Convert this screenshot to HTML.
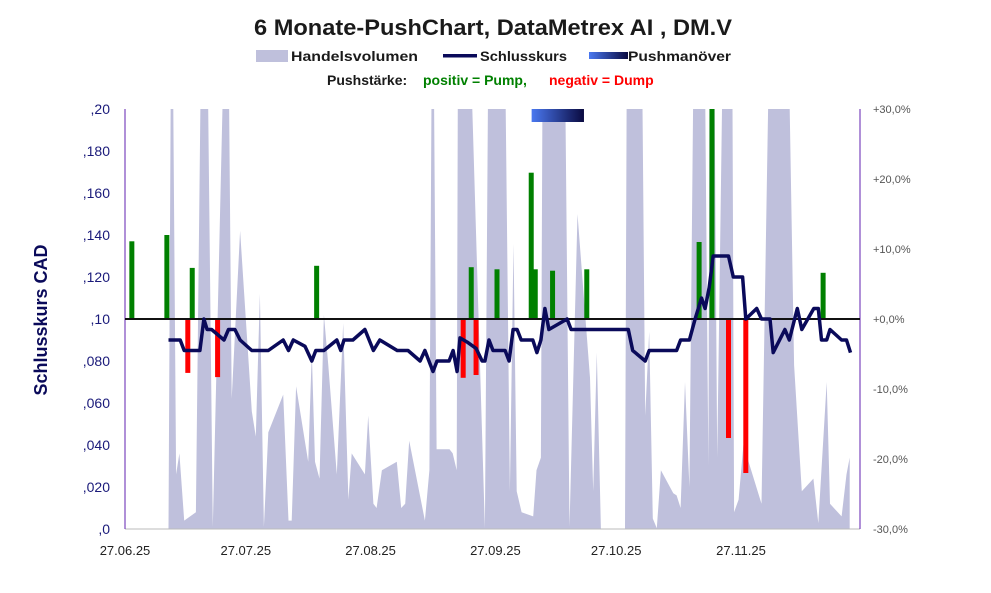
<!DOCTYPE html>
<html><head><meta charset="utf-8"><style>
html,body{margin:0;padding:0;background:#fff;}
svg{display:block;font-family:"Liberation Sans",sans-serif;}
</style></head><body>
<svg id="chart" width="991" height="593" viewBox="0 0 991 593" xmlns="http://www.w3.org/2000/svg">
<defs>
<linearGradient id="pg" x1="0" x2="1" y1="0" y2="0"><stop offset="0" stop-color="#4a78f0"/><stop offset="1" stop-color="#0a0a40"/></linearGradient>
<clipPath id="plotclip"><rect x="125" y="109" width="735" height="420"/></clipPath>
</defs>
<text x="493" y="35" text-anchor="middle" font-size="22" font-weight="bold" fill="#1a1a1a" textLength="478" lengthAdjust="spacingAndGlyphs">6 Monate-PushChart, DataMetrex AI , DM.V</text>
<g>
<rect x="256" y="50" width="32" height="12" fill="#bfc0dc"/>
<text x="291" y="61" font-size="14" font-weight="bold" fill="#1a1a1a" textLength="127" lengthAdjust="spacingAndGlyphs">Handelsvolumen</text>
<rect x="443" y="54" width="34" height="3.5" fill="#0a0a5a"/>
<text x="480" y="61" font-size="14" font-weight="bold" fill="#1a1a1a" textLength="87" lengthAdjust="spacingAndGlyphs">Schlusskurs</text>
<rect x="589" y="52" width="39" height="7" fill="url(#pg)"/>
<text x="628" y="61" font-size="14" font-weight="bold" fill="#1a1a1a" textLength="103" lengthAdjust="spacingAndGlyphs">Pushmanöver</text>
<text y="85" font-size="14" font-weight="bold"><tspan x="327" fill="#1a1a1a">Pushstärke:</tspan><tspan x="423" fill="#008000">positiv = Pump,</tspan><tspan x="549" fill="#ff0000">negativ = Dump</tspan></text>
</g>
<g id="vol" clip-path="url(#plotclip)"></g>
<g id="push"></g>
<g id="axes"></g>
<g id="price"></g>
<text transform="translate(47,320) rotate(-90)" text-anchor="middle" font-size="18" font-weight="bold" fill="#0a0a5a">Schlusskurs CAD</text>
</svg>
<script>
const volDays=[10.8,11.6,12.7,13.5,14.7,17.6,19.3,20.1,21.8,25.4,26.5,28.6,31.5,32.5,33.5,34.5,35.6,39.3,40.6,41.4,42.5,45.5,46.4,47.2,48.3,49.4,50.5,52.6,54.2,55.5,56.3,59.6,60.4,61.7,62.5,63.8,67.5,68.6,69.6,70.6,74.5,75.6,76.4,77.4,80.6,81.4,82.4,82.8,84.7,89.4,90.5,94,95.6,96.5,97.3,98.5,101.4,102.2,103.3,103.9,108.9,110.4,112.4,115.5,116.3,117.2,118.2,124.2,124.8,128.1,129.2,130.2,131.1,132.1,133.1,136.2,137,138,139.1,140.2,141.6,143.7,144.9,145.3,146.1,147.1,149,150.7,151.3,152.4,153.6,158.1,160.6,164.2,166.2,168.1,171,172.2,174.3,175.1,178,179.2,180];
const volValues=[0,150,13,18,2,4,150,150,0.5,150,31,71,28,22,56,0.5,23,32,2,2,34,16,42,16,12,51,39,13,49,7,18,13,27,6,5,14,16,5,6,21,2,14,150,19,19,18,14,150,150,0.2,150,150,9,68,9,4,3,14,17,150,150,0.5,75,36,9,42,0,0,150,150,27,47,2.5,0.2,14,8.5,8,5,35,10,150,150,15,150,150,17,150,150,4,7,20,6,150,150,39,9,12,1.4,35,6,3,13,17];
const priceDays=[10.8,13.7,14.7,18.6,19.6,20.4,21.5,24.6,25.7,27.3,28.6,31.5,35.6,39.3,40.6,41.8,44.7,46.4,47.4,49.4,52.6,53.6,54.4,56.6,59.6,61.7,63.3,67.6,70.3,73.3,74.5,76.5,77.5,80.5,81.5,82.5,83.2,85,87.2,88.7,89.4,90.4,91.4,94.4,95.4,96.4,97.4,98.4,101.3,102.3,103.3,104.3,105.3,109.8,110.8,125,126.1,129.2,130.2,137,138,140.2,141.6,143.2,144.1,145.1,146.1,149.9,151.1,153.4,154.2,156.9,158.1,160.2,161,163.9,165,167,168.1,171.1,172.2,173,174.3,175.1,178,179.2,180.2];
const priceValues=[0.090,0.090,0.085,0.085,0.100,0.095,0.095,0.090,0.095,0.095,0.090,0.085,0.085,0.090,0.085,0.090,0.087,0.080,0.085,0.085,0.090,0.085,0.090,0.090,0.095,0.085,0.090,0.085,0.085,0.080,0.085,0.075,0.080,0.080,0.085,0.075,0.091,0.089,0.086,0.080,0.080,0.090,0.085,0.085,0.080,0.095,0.095,0.090,0.090,0.084,0.090,0.105,0.095,0.100,0.095,0.095,0.085,0.080,0.085,0.085,0.090,0.090,0.100,0.110,0.105,0.115,0.130,0.130,0.120,0.120,0.100,0.105,0.100,0.100,0.084,0.095,0.090,0.105,0.095,0.105,0.105,0.090,0.090,0.095,0.090,0.090,0.084];
const pushDays=[1.7,10.4,16.7,15.6,23,47.6,84,86,87.2,92.4,100.9,101.9,106.2,114.7,142.6,145.8,149.9,154.2,173.4];
const pushValues=[11.1,12,7.3,-7.7,-8.3,7.6,-8.4,7.4,-8,7.1,20.9,7.1,6.9,7.1,11,32,-17,-22,6.6];
const pushManeuver=[101,114];
const leftTicks=[",0",",020",",040",",060",",080",",10",",120",",140",",160",",180",",20"];
const rightTicks=["-30,0%","-20,0%","-10,0%","+0,0%","+10,0%","+20,0%","+30,0%"];
const xLabels=["27.06.25","27.07.25","27.08.25","27.09.25","27.10.25","27.11.25"];
const xLabelDays=[0,30,61,92,122,153];

const NS="http://www.w3.org/2000/svg";
const X0=125,X1=860,YT=109,YB=529;
const xs=d=>X0+d*4.026;
const yp=p=>YB-(p/0.20)*(YB-YT);
const yv=v=>YB-(v/100)*(YB-YT);
const yr=r=>319-r*7;
function mk(tag,attrs,parent){const e=document.createElementNS(NS,tag);for(const k in attrs)e.setAttribute(k,attrs[k]);parent.appendChild(e);return e;}

const gv=document.getElementById('vol');
let pts=[];volDays.forEach((d,i)=>pts.push(xs(d).toFixed(1)+','+yv(volValues[i]).toFixed(1)));
const vpoly=mk('polygon',{points:xs(volDays[0])+','+YB+' '+pts.join(' ')+' '+xs(volDays[volDays.length-1])+','+YB,fill:'#bfc0dc'},gv);



const gp=document.getElementById('push');
const pm=mk('rect',{x:xs(pushManeuver[0]),y:YT,width:xs(pushManeuver[1])-xs(pushManeuver[0]),height:13,fill:'url(#pg)'},gp);


pushDays.forEach((d,i)=>{
  const v=pushValues[i];const y=yr(Math.min(v,30));const y0=yr(0);
  const r=mk('rect',{x:xs(d)-2.5,y:Math.min(y,y0),width:5,height:Math.abs(y-y0),fill:v>=0?'#008000':'#ff0000'},gp);
  
  
});

const ga=document.getElementById('axes');
mk('line',{x1:X0,y1:YB,x2:X1,y2:YB,stroke:'#bbbbbb','stroke-width':1},ga);
mk('line',{x1:X0,y1:YT,x2:X0,y2:YB,stroke:'#6020b0','stroke-width':1},ga);
mk('line',{x1:X1,y1:YT,x2:X1,y2:YB,stroke:'#6020b0','stroke-width':1},ga);
const zl=mk('line',{x1:X0,y1:319,x2:X1,y2:319,stroke:'#111','stroke-width':2},ga);


leftTicks.forEach((t,i)=>{
  const e=mk('text',{x:110,y:yp(i*0.02)+5,'text-anchor':'end','font-size':14,fill:'#1a1a7a'},ga);e.textContent=t;
  
  
});
rightTicks.forEach((t,i)=>{
  const e=mk('text',{x:873,y:yr(-30+i*10)+4,'font-size':11,fill:'#555'},ga);e.textContent=t;
  
  
});
xLabels.forEach((t,i)=>{
  const e=mk('text',{x:xs(xLabelDays[i]),y:555,'text-anchor':'middle','font-size':13,fill:'#222'},ga);e.textContent=t;
  
  
});

const gl=document.getElementById('price');
const lp=priceDays.map((d,i)=>xs(d).toFixed(1)+','+yp(priceValues[i]).toFixed(1)).join(' ');
const pl=mk('polyline',{points:lp,fill:'none',stroke:'#0a0a5a','stroke-width':3.5,'stroke-linejoin':'round'},gl);


</script>
</body></html>
